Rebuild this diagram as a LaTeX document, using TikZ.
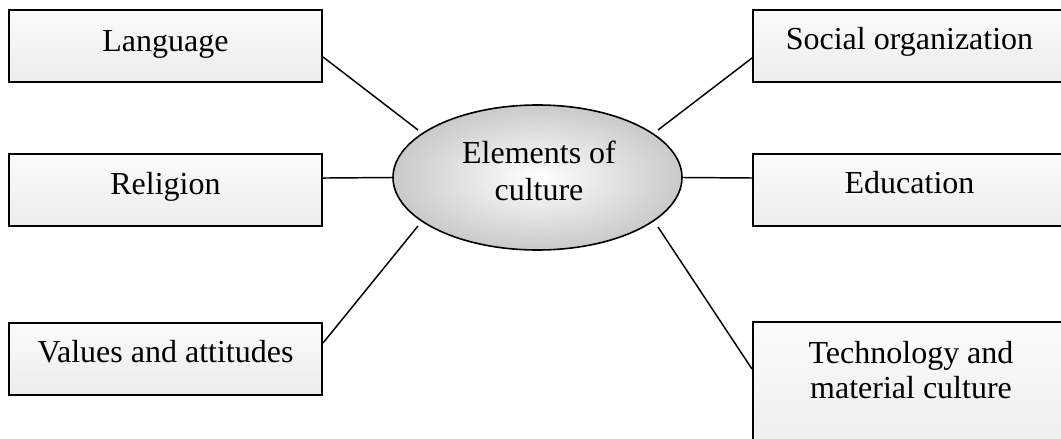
\documentclass[tikz,border=0pt]{standalone}
\usepackage{fontspec}
\setmainfont{Liberation Serif}
\usetikzlibrary{shapes.geometric}
\begin{document}
\begin{tikzpicture}[x=0.75pt,y=-0.75pt,
 box/.style={draw=black,line width=1.5pt,rectangle,minimum width=234.75pt,minimum height=54pt,inner sep=0pt,top color=gray!3,bottom color=gray!15},
 lbl/.style={font=\fontsize{24}{27}\selectfont,inner sep=0pt,anchor=base},
 conn/.style={line width=1.1pt}]
\useasboundingbox (0,0) rectangle (1061,439);
\clip (0,0) rectangle (1061,439);
\fill[white] (0,0) rectangle (1061,439);
% boxes
\node[box] (lang) at (165.5,45.5) {};
\node[box] (rel) at (165.5,189.5) {};
\node[box] (val) at (165.5,358.5) {};
\node[box] (soc) at (909.5,45.5) {};
\node[box] (edu) at (909.5,190) {};
\node[box,minimum height=105pt] (tech) at (909.5,392) {};
\node[ellipse,draw=black,line width=1.2pt,minimum width=216.75pt,minimum height=108.75pt,inner sep=0pt,inner color=white,outer color=gray!42] (ell) at (537.5,177.5) {};
% labels
\node[lbl] (langt) at (165.5,51) {Language};
\node[lbl] (relt) at (165.5,194) {Religion};
\node[lbl] (valt) at (165.5,362) {Values and attitudes};
\node[lbl] (soct) at (909.5,50) {Social organization};
\node[lbl] (edut) at (909.5,193) {Education};
\node[lbl] (techa) at (911,363) {Technology and};
\node[lbl] (techb) at (911,398) {material culture};
\node[lbl] (ella) at (539,163) {Elements of};
\node[lbl] (ellb) at (539,200) {culture};
% connectors
\coordinate (e1) at (418,130);
\coordinate (e2) at (418,226);
\coordinate (e3) at (658,130);
\coordinate (e4) at (658,227);
\draw[conn] ([yshift=-8.6pt]lang.east) -- (e1);
\draw[conn] ([yshift=8.6pt]rel.east) -- (ell.west);
\draw[conn] ([yshift=11.6pt]val.east) -- (e2);
\draw[conn] ([yshift=-9.4pt]soc.west) -- (e3);
\draw[conn] (ell.east) -- ([yshift=9pt]edu.west);
\draw[conn] ([yshift=-36pt]tech.north west) -- (e4);
\end{tikzpicture}
\end{document}
